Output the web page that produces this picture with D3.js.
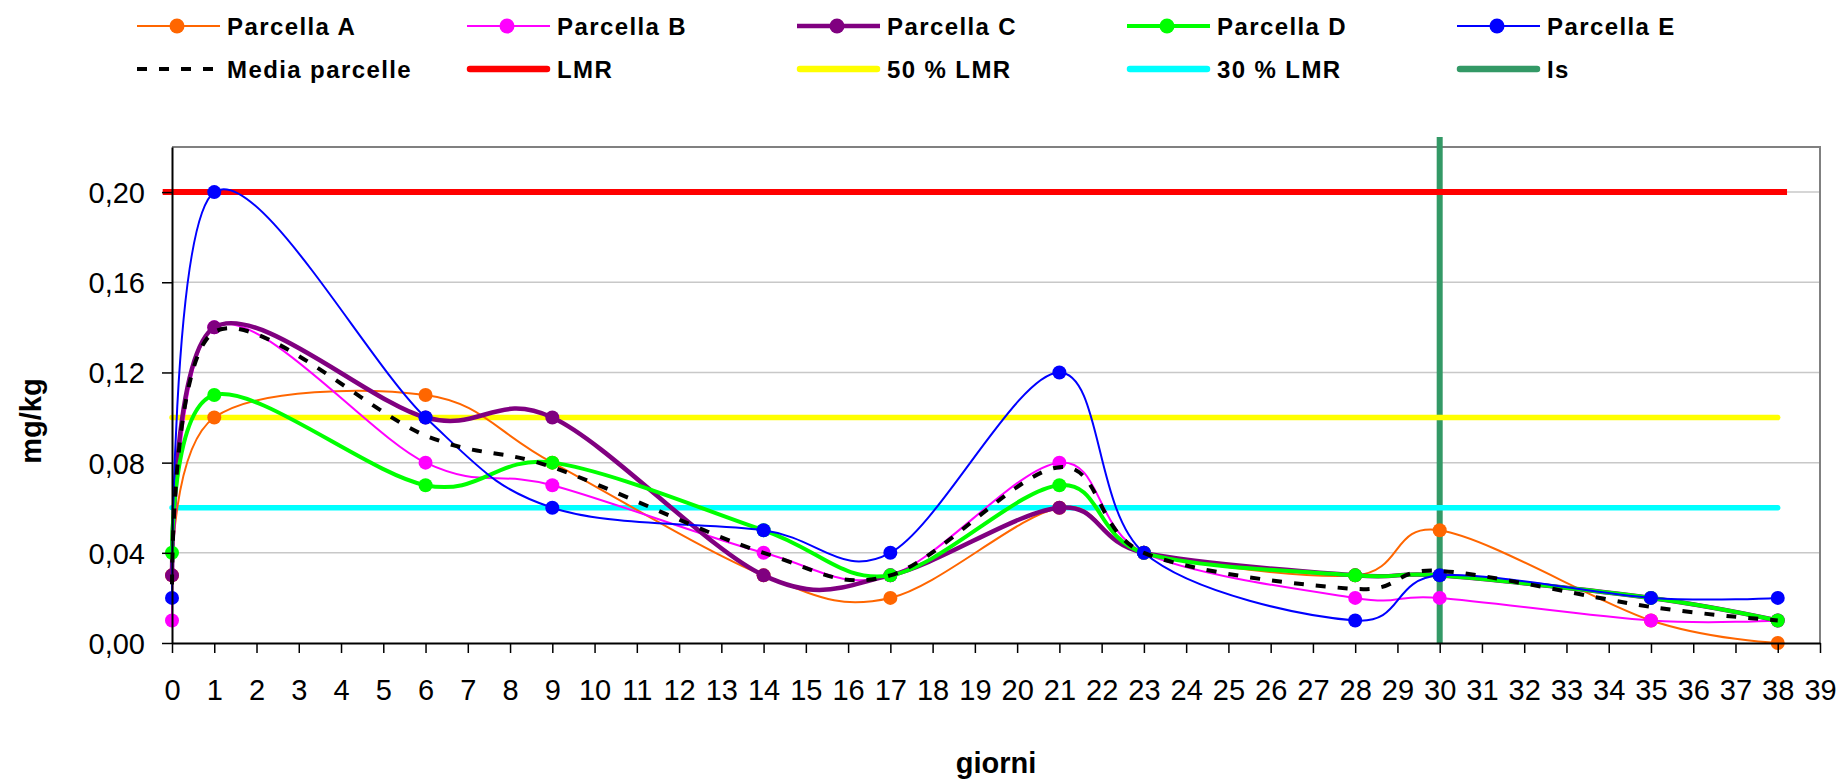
<!DOCTYPE html>
<html><head><meta charset="utf-8">
<script src="https://cdn.jsdelivr.net/npm/d3@7"></script>
<style>body{margin:0;background:#fff}svg{display:block}</style></head>
<body><svg id="c" width="1841" height="783"></svg>
<script>
// ---- data ----
const days = [0, 1, 6, 9, 14, 17, 21, 23, 28, 30, 35, 38];
const parcellaA = [0.03, 0.10, 0.11, 0.08, 0.03, 0.02, 0.06, 0.04, 0.03, 0.05, 0.01, 0.00];
const parcellaB = [0.01, 0.14, 0.08, 0.07, 0.04, 0.03, 0.08, 0.04, 0.02, 0.02, 0.01, 0.01];
const parcellaC = [0.03, 0.14, 0.10, 0.10, 0.03, 0.03, 0.06, 0.04, 0.03, 0.03, 0.02, 0.01];
const parcellaD = [0.04, 0.11, 0.07, 0.08, 0.05, 0.03, 0.07, 0.04, 0.03, 0.03, 0.02, 0.01];
const parcellaE = [0.02, 0.20, 0.10, 0.06, 0.05, 0.04, 0.12, 0.04, 0.01, 0.03, 0.02, 0.02];
const mediaParcelle = [0.026, 0.138, 0.092, 0.078, 0.040, 0.030, 0.078, 0.040, 0.024, 0.032, 0.016, 0.010];
const lmrValue = 0.20, lmr50Value = 0.10, lmr30Value = 0.06;
const lmrDays = [-0.22, 38.22];
const refDays = [0, 38];
const isDay = 30;
const isRange = [0, 0.2244];
const yTicks = [0, 0.04, 0.08, 0.12, 0.16, 0.20];
const xTicks = [0,1,2,3,4,5,6,7,8,9,10,11,12,13,14,15,16,17,18,19,20,21,22,23,24,25,26,27,28,29,30,31,32,33,34,35,36,37,38,39];
const xTitle = "giorni", yTitle = "mg/kg";

// ---- chart ----
const svg = d3.select("#c");
const FONT = "'Liberation Sans', Arial, sans-serif";
const L = 172, R = 1820, T = 147, B = 643;
const x = d3.scaleLinear().domain([0, 39]).range([L, R]);
const y = d3.scaleLinear().domain([0, 0.22]).range([B, T]);

const series = [
  {name: "Parcella A", values: parcellaA, color: "#FF6600", width: 2},
  {name: "Parcella B", values: parcellaB, color: "#FF00FF", width: 2},
  {name: "Parcella C", values: parcellaC, color: "#800080", width: 4.5},
  {name: "Parcella D", values: parcellaD, color: "#00FF00", width: 4},
  {name: "Parcella E", values: parcellaE, color: "#0000FF", width: 2}
];
const refs = [
  {name: "LMR", value: lmrValue, color: "#FF0000", width: 6, ext: lmrDays},
  {name: "50 % LMR", value: lmr50Value, color: "#FFFF00", width: 5.5, ext: refDays},
  {name: "30 % LMR", value: lmr30Value, color: "#00FFFF", width: 5.5, ext: refDays}
];

// gridlines
svg.append("g").selectAll("line").data(yTicks.filter(d => d > 0)).join("line")
  .attr("x1", L).attr("x2", R).attr("y1", d => y(d)).attr("y2", d => y(d))
  .attr("stroke", "#c8c8c8").attr("stroke-width", 1.5);

// frame top/right
svg.append("path").attr("d", `M${x(0)},${y(0.22)}H${x(39)}V${y(0)}`)
  .attr("fill", "none").attr("stroke", "#808080").attr("stroke-width", 2);

// Is vertical line
svg.append("line").attr("x1", x(isDay)).attr("x2", x(isDay))
  .attr("y1", y(isRange[0])).attr("y2", y(isRange[1]))
  .attr("stroke", "#339966").attr("stroke-width", 6);

// horizontal reference lines
svg.append("g").selectAll("line").data(refs).join("line")
  .attr("x1", d => x(d.ext[0])).attr("x2", d => x(d.ext[1]))
  .attr("y1", d => y(d.value)).attr("y2", d => y(d.value))
  .attr("stroke", d => d.color).attr("stroke-width", d => d.width)
  .attr("stroke-linecap", (d, i) => i === 0 ? "butt" : "round");

const line = d3.line().x(d => x(d[0])).y(d => y(d[1])).curve(d3.curveCardinal.tension(0));

series.forEach(s => {
  const pts = days.map((d, i) => [d, s.values[i]]);
  svg.append("path").datum(pts).attr("d", line)
    .attr("fill", "none").attr("stroke", s.color).attr("stroke-width", s.width)
    .attr("stroke-linejoin", "round");
  svg.append("g").selectAll("circle").data(pts).join("circle")
    .attr("cx", d => x(d[0])).attr("cy", d => y(d[1])).attr("r", 7)
    .attr("fill", s.color);
});

// media
svg.append("path").datum(days.map((d, i) => [d, mediaParcelle[i]])).attr("d", line)
  .attr("fill", "none").attr("stroke", "#000").attr("stroke-width", 4)
  .attr("stroke-dasharray", "10,12");

// axes
const yAxis = svg.append("g").attr("transform", `translate(${L},0)`)
  .call(d3.axisLeft(y).tickValues(yTicks).tickSize(10).tickSizeOuter(0)
    .tickFormat(d => d3.format(".2f")(d).replace(".", ",")));
yAxis.select(".domain").attr("stroke", "#000").attr("stroke-width", 2);
yAxis.selectAll(".tick line").attr("stroke", "#000").attr("stroke-width", 1.5);
yAxis.selectAll(".tick text").attr("x", -27).attr("dy", "0.36em")
  .attr("font-family", FONT).attr("font-size", 29).attr("fill", "#000");

const xAxis = svg.append("g").attr("transform", `translate(0,${B})`)
  .call(d3.axisBottom(x).tickValues(xTicks).tickSize(10).tickSizeOuter(0).tickFormat(d3.format("d")));
xAxis.select(".domain").attr("stroke", "#000").attr("stroke-width", 2);
xAxis.selectAll(".tick line").attr("stroke", "#000").attr("stroke-width", 1.5);
xAxis.selectAll(".tick text").attr("y", 47).attr("dy", "0.36em")
  .attr("font-family", FONT).attr("font-size", 29).attr("fill", "#000");

// titles
svg.append("text").attr("x", (L + R) / 2).attr("y", 763).attr("text-anchor", "middle")
  .attr("dominant-baseline", "central")
  .attr("font-family", FONT).attr("font-weight", "bold").attr("font-size", 29).text(xTitle);
svg.append("text").attr("transform", `translate(31,${(T + B) / 2 + 26}) rotate(-90)`)
  .attr("text-anchor", "middle").attr("dominant-baseline", "central")
  .attr("font-family", FONT).attr("font-weight", "bold").attr("font-size", 29).text(yTitle);

// legend
const legendItems = [
  ...series.map(s => ({name: s.name, color: s.color, width: s.width, marker: true})),
  {name: "Media parcelle", color: "#000", width: 4, dash: "10,12"},
  ...refs.map(r => ({name: r.name, color: r.color, width: 6.5, cap: "round"})),
  {name: "Is", color: "#339966", width: 6.5, cap: "round"}
];
const lg = svg.append("g").selectAll("g").data(legendItems).join("g")
  .attr("transform", (d, i) => `translate(${137 + (i % 5) * 330},${26 + Math.floor(i / 5) * 43})`);
lg.append("line").attr("x1", d => d.cap ? 3 : 0).attr("x2", d => d.cap ? 80 : 83)
  .attr("stroke", d => d.color).attr("stroke-width", d => d.width)
  .attr("stroke-linecap", d => d.cap || "butt").attr("stroke-dasharray", d => d.dash || null);
lg.filter(d => d.marker).append("circle").attr("cx", 40).attr("r", 7.5).attr("fill", d => d.color);
lg.append("text").attr("x", 90).attr("dy", "0.36em")
  .attr("font-family", FONT).attr("font-weight", "bold").attr("font-size", 24)
  .attr("letter-spacing", 1.4).text(d => d.name);
</script>
</body></html>
